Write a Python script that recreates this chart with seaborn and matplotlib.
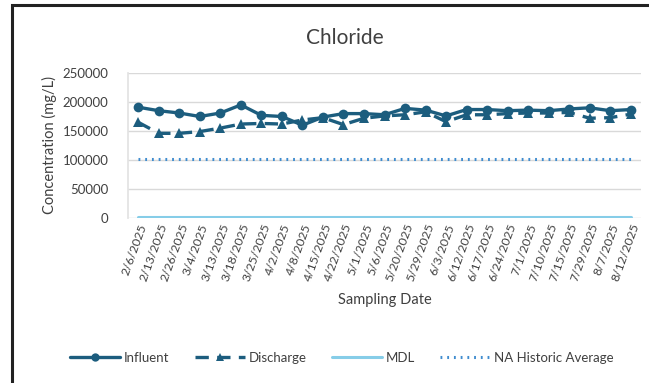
import matplotlib
matplotlib.use("Agg")
import matplotlib.pyplot as plt
import seaborn as sns
import pandas as pd
from matplotlib.lines import Line2D
from matplotlib.patches import Rectangle

dates = ["2/6/2025", "2/13/2025", "2/26/2025", "3/4/2025", "3/13/2025", "3/18/2025",
         "3/25/2025", "4/2/2025", "4/8/2025", "4/15/2025", "4/22/2025", "5/1/2025",
         "5/6/2025", "5/20/2025", "5/29/2025", "6/3/2025", "6/12/2025", "6/17/2025",
         "6/24/2025", "7/1/2025", "7/10/2025", "7/15/2025", "7/29/2025", "8/7/2025",
         "8/12/2025"]
influent = [191000, 185000, 181000, 175000, 181000, 195000, 177000, 175000, 160000,
            174000, 180000, 180000, 178000, 189000, 186000, 176000, 187000, 187000,
            185000, 186000, 185000, 188000, 190000, 185000, 187000]
discharge = [165000, 146000, 146000, 149000, 155000, 162000, 163000, 162000, 169000,
             173000, 161000, 172000, 176000, 178000, 183000, 166000, 178000, 178000,
             180000, 181000, 181000, 182000, 172000, 173000, 179000]
mdl = [1000] * len(dates)
na_hist = [102000] * len(dates)
yticks = [0, 50000, 100000, 150000, 200000, 250000]

df = pd.DataFrame({"date": dates, "Influent": influent, "Discharge": discharge,
                   "MDL": mdl, "NA Historic Average": na_hist})

sns.set_theme(style="white")
plt.rcParams['font.family'] = ['Lato', 'DejaVu Sans']

dark = "#1c5d7e"
light = "#86cde8"
dotc = "#3f8ccf"
txt = "#404040"

fig = plt.figure(figsize=(6.49, 3.83), dpi=100)
ax = fig.add_axes([128/649, 1-218/383, 513/649, 145/383])

sns.lineplot(data=df, x="date", y="MDL", ax=ax, color=light, linewidth=2.2, sort=False)
sns.lineplot(data=df, x="date", y="NA Historic Average", ax=ax, color=dotc,
             linewidth=2.2, linestyle=(0, (0.6, 1.6)), sort=False)
sns.lineplot(data=df, x="date", y="Discharge", ax=ax, color=dark, linewidth=2.4,
             linestyle=(0, (4, 2.5)), marker="^", markersize=7, markeredgewidth=0, sort=False)
sns.lineplot(data=df, x="date", y="Influent", ax=ax, color=dark, linewidth=2.4,
             marker="o", markersize=7, markeredgewidth=0, sort=False)

ax.set_xlim(-0.5, len(dates) - 0.5)
ax.set_ylim(0, 250000)
ax.set_yticks(yticks)
ax.set_yticklabels([str(v) for v in yticks], fontsize=9.5, color=txt)
ax.grid(axis="y", color="#d9d9d9", linewidth=1)
ax.set_axisbelow(True)
for s in ["top", "right", "bottom"]:
    ax.spines[s].set_visible(False)
ax.spines["left"].set_color("#e3e3e3")
ax.tick_params(axis="y", length=0, pad=14)
ax.tick_params(axis="x", length=0, pad=3)
plt.setp(ax.get_xticklabels(), rotation=70, ha="right", rotation_mode="anchor",
         fontsize=8.8, color=txt)

ax.set_xlabel("Sampling Date", fontsize=10.5, color=txt, labelpad=7)
ax.set_ylabel("Concentration (mg/L)", fontsize=10.5, color=txt, labelpad=4)
fig.text(0.532, 1-38/383, "Chloride", ha="center", va="center", fontsize=15, color=txt)

handles = [
    Line2D([], [], color=dark, lw=2.4, marker="o", markersize=6, markeredgewidth=0),
    Line2D([], [], color=dark, lw=2.4, linestyle=(0, (4, 2.5)), marker="^", markersize=6,
           markeredgewidth=0),
    Line2D([], [], color=light, lw=2.2),
    Line2D([], [], color=dotc, lw=2.2, linestyle=(0, (0.6, 1.6))),
]
labels = ["Influent", "Discharge", "MDL", "NA Historic Average"]
fig.legend(handles, labels, loc="center", bbox_to_anchor=(0.527, 1-358/383), ncol=4,
           frameon=False, fontsize=9.5, handlelength=3.8, columnspacing=1.9,
           handletextpad=0.3, labelcolor=txt)

fig.patches.append(Rectangle((12/649, -0.1), 1.0, 1-5/383+0.1, transform=fig.transFigure,
                             fill=False, edgecolor="#222222", linewidth=2.2))

fig.savefig("out.png", dpi=100)
